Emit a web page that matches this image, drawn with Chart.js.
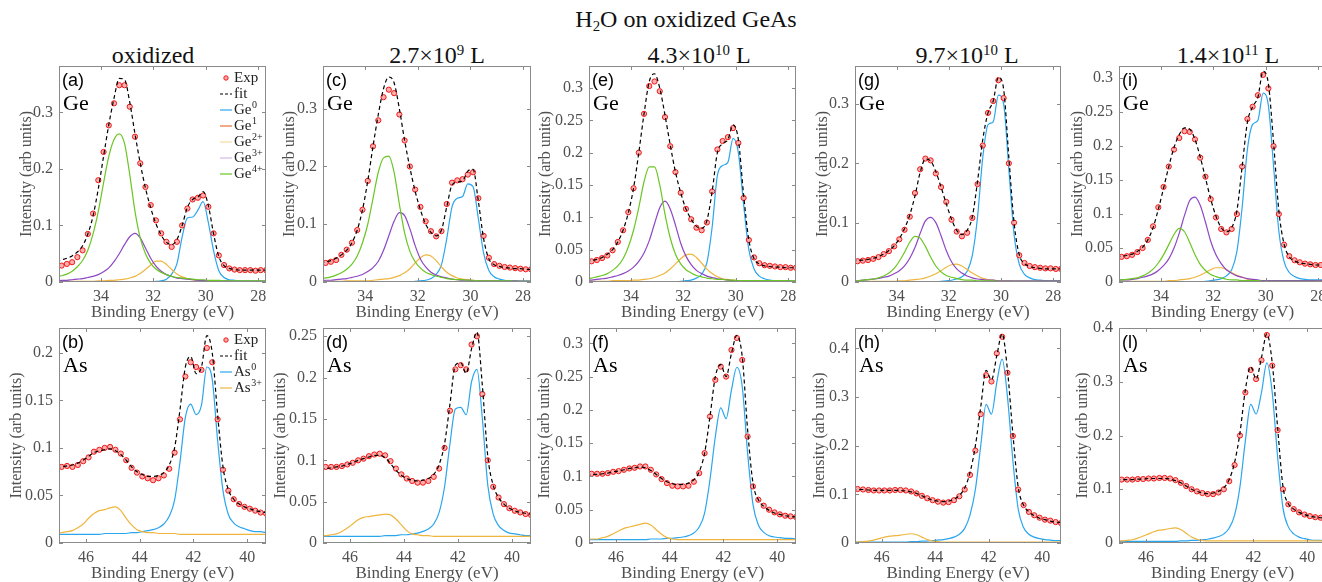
<!DOCTYPE html>
<html>
<head>
<meta charset="utf-8">
<title>H2O on oxidized GeAs</title>
<script src="https://cdn.jsdelivr.net/npm/chart.js@4.4.1/dist/chart.umd.min.js"></script>
<style>
  html, body { margin: 0; padding: 0; background: #fff; }
  body { width: 1322px; height: 582px; position: relative; overflow: hidden; font-family: 'Liberation Serif', 'DejaVu Serif', serif; }
  .txt { position: absolute; white-space: nowrap; color: #111; transform: translate(-50%, -50%); line-height: 1; }
  .main { font-size: 24px; }
  .col { font-size: 24px; }
  .sup { font-size: 0.62em; position: relative; top: -0.55em; }
  .sub { font-size: 0.62em; position: relative; top: 0.3em; }
  .panel { position: absolute; }
</style>
</head>
<body>
<div class="txt main" style="left:686px;top:19px">H<span class="sub">2</span>O on oxidized GeAs</div>
<div class="txt col" style="left:153px;top:55px">oxidized</div>
<div class="txt col" style="left:437px;top:55px">2.7×10<span class="sup">9</span> L</div>
<div class="txt col" style="left:699px;top:55px">4.3×10<span class="sup">10</span> L</div>
<div class="txt col" style="left:967px;top:55px">9.7×10<span class="sup">10</span> L</div>
<div class="txt col" style="left:1228px;top:55px">1.4×10<span class="sup">11</span> L</div>

<script>
const serif = 'Liberation Serif, DejaVu Serif, serif';
Chart.defaults.font.family = serif;

// --- Data ---

const geX = [
	35.7, 35.5, 35.3, 35.1, 34.9, 34.7, 34.5,
	34.3, 34.1, 33.9, 33.7, 33.5, 33.3, 33.1,
	32.9, 32.7, 32.5, 32.3, 32.1, 31.9, 31.7,
	31.5, 31.3, 31.1, 30.9, 30.7, 30.5, 30.3,
	30.1, 29.9, 29.7, 29.5, 29.3, 29.1, 28.9,
	28.7, 28.5, 28.3, 28.1, 27.9, 27.7, 27.5,
];
const asX = [
	47.1, 46.9, 46.7, 46.5, 46.3, 46.1, 45.9, 45.7,
	45.5, 45.3, 45.1, 44.9, 44.7, 44.5, 44.3, 44.1,
	43.9, 43.7, 43.5, 43.3, 43.1, 42.9, 42.7, 42.5,
	42.3, 42.1, 41.9, 41.7, 41.5, 41.3, 41.1, 40.9,
	40.7, 40.5, 40.3, 40.1, 39.9, 39.7, 39.5, 39.3,
	39.1,
];
const geOneX = [35.7, 27.5];
const geOneY = [0, 0];

const geRange = [27.7, 35.6];
const asRange = [39.3, 47.0];
const geTicks = [28, 30, 32, 34];
const asTicks = [40, 42, 44, 46];
const yTicks3 = [0, 0.1, 0.2, 0.3];
const yTicks4 = [0, 0.1, 0.2, 0.3, 0.4];
const yTicks20 = [0, 0.05, 0.1, 0.15, 0.2];
const yTicks25 = [0, 0.05, 0.1, 0.15, 0.2, 0.25];
const yTicks30 = [0, 0.05, 0.1, 0.15, 0.2, 0.25, 0.3];

// (a) oxidized, Ge 3d
const aExp = [
	0.028, 0.029, 0.032, 0.035, 0.044, 0.056, 0.085,
	0.121, 0.18, 0.23, 0.277, 0.316, 0.348, 0.348,
	0.31, 0.257, 0.21, 0.168, 0.136, 0.109, 0.086,
	0.071, 0.062, 0.071, 0.1, 0.13, 0.146, 0.149,
	0.153, 0.133, 0.086, 0.047, 0.03, 0.024, 0.022,
	0.021, 0.021, 0.021, 0.02, 0.021, 0.021, 0.021,
];
const aFit = [
	0.036, 0.039, 0.042, 0.046, 0.053, 0.064, 0.085,
	0.117, 0.165, 0.222, 0.278, 0.325, 0.36, 0.358,
	0.318, 0.262, 0.21, 0.166, 0.131, 0.103, 0.083,
	0.07, 0.066, 0.075, 0.1, 0.132, 0.146, 0.15,
	0.16, 0.135, 0.085, 0.045, 0.029, 0.024, 0.022,
	0.021, 0.021, 0.021, 0.021, 0.021, 0.021, 0.021,
];
const aGe0 = [
	0, 0, 0, 0, 0, 0, 0,
	0, 0, 0, 0, 0, 0, 0,
	0, 0, 0, 0, 0, 0.001, 0.002,
	0.005, 0.014, 0.032, 0.08, 0.113, 0.115, 0.127,
	0.142, 0.105, 0.055, 0.02, 0.008, 0.004, 0.003,
	0.002, 0.002, 0.002, 0.002, 0.002, 0.002, 0.002,
];
const aGe2 = [
	0.001, 0.001, 0.001, 0.001, 0.001, 0.001, 0.001,
	0.001, 0.002, 0.002, 0.003, 0.003, 0.004, 0.005,
	0.007, 0.01, 0.015, 0.022, 0.03, 0.037, 0.037,
	0.031, 0.022, 0.014, 0.009, 0.006, 0.004, 0.003,
	0.002, 0.002, 0.002, 0.001, 0.001, 0.001, 0.001,
	0.001, 0.001, 0.001, 0.001, 0.001, 0.001, 0.001,
];
const aGe3 = [
	0.002, 0.003, 0.003, 0.004, 0.005, 0.006, 0.008,
	0.01, 0.013, 0.018, 0.025, 0.036, 0.05, 0.066,
	0.08, 0.086, 0.078, 0.06, 0.042, 0.028, 0.019,
	0.013, 0.01, 0.007, 0.006, 0.005, 0.004, 0.003,
	0.003, 0.002, 0.002, 0.002, 0.002, 0.002, 0.001,
	0.001, 0.001, 0.001, 0.001, 0.001, 0.001, 0.001,
];
const aGe4 = [
	0.009, 0.011, 0.014, 0.019, 0.027, 0.038, 0.056,
	0.085, 0.125, 0.175, 0.222, 0.252, 0.262, 0.245,
	0.19, 0.125, 0.078, 0.05, 0.033, 0.023, 0.017,
	0.013, 0.01, 0.008, 0.007, 0.006, 0.005, 0.004,
	0.004, 0.003, 0.003, 0.003, 0.002, 0.002, 0.002,
	0.002, 0.002, 0.002, 0.002, 0.002, 0.002, 0.002,
];

// (c) 2.7e9 L, Ge 3d
const cExp = [
	0.032, 0.033, 0.035, 0.038, 0.047, 0.056, 0.068,
	0.09, 0.125, 0.175, 0.235, 0.28, 0.32, 0.333,
	0.327, 0.29, 0.245, 0.2, 0.16, 0.13, 0.105,
	0.088, 0.079, 0.088, 0.135, 0.172, 0.176, 0.178,
	0.186, 0.19, 0.145, 0.08, 0.042, 0.031, 0.028,
	0.026, 0.025, 0.024, 0.023, 0.022, 0.022, 0.022,
];
const cFit = [
	0.033, 0.035, 0.037, 0.041, 0.047, 0.055, 0.068,
	0.09, 0.125, 0.175, 0.235, 0.29, 0.335, 0.355,
	0.345, 0.3, 0.245, 0.198, 0.157, 0.125, 0.1,
	0.086, 0.08, 0.09, 0.13, 0.168, 0.173, 0.175,
	0.192, 0.195, 0.14, 0.075, 0.04, 0.03, 0.027,
	0.025, 0.024, 0.023, 0.023, 0.022, 0.022, 0.022,
];
const cGe0 = [
	0, 0, 0, 0, 0, 0, 0,
	0, 0, 0, 0, 0, 0, 0,
	0, 0, 0, 0, 0.001, 0.002, 0.003,
	0.006, 0.013, 0.03, 0.075, 0.13, 0.145, 0.148,
	0.17, 0.165, 0.11, 0.05, 0.02, 0.009, 0.005,
	0.003, 0.002, 0.002, 0.002, 0.002, 0.002, 0.002,
];
const cGe2 = [
	0.001, 0.001, 0.001, 0.001, 0.001, 0.002, 0.002,
	0.002, 0.002, 0.002, 0.003, 0.004, 0.005, 0.006,
	0.008, 0.011, 0.016, 0.023, 0.033, 0.042, 0.047,
	0.045, 0.037, 0.026, 0.017, 0.011, 0.007, 0.005,
	0.004, 0.003, 0.002, 0.002, 0.002, 0.002, 0.001,
	0.001, 0.001, 0.001, 0.001, 0.001, 0.001, 0.001,
];
const cGe3 = [
	0.002, 0.003, 0.003, 0.004, 0.005, 0.006, 0.008,
	0.01, 0.013, 0.018, 0.025, 0.036, 0.055, 0.08,
	0.105, 0.12, 0.115, 0.092, 0.063, 0.04, 0.026,
	0.017, 0.012, 0.009, 0.007, 0.005, 0.004, 0.003,
	0.003, 0.002, 0.002, 0.002, 0.002, 0.002, 0.002,
	0.002, 0.002, 0.002, 0.001, 0.001, 0.001, 0.001,
];
const cGe4 = [
	0.006, 0.007, 0.009, 0.012, 0.016, 0.022, 0.031,
	0.045, 0.068, 0.1, 0.145, 0.19, 0.215, 0.218,
	0.19, 0.135, 0.085, 0.053, 0.035, 0.024, 0.017,
	0.013, 0.01, 0.008, 0.006, 0.005, 0.004, 0.004,
	0.003, 0.003, 0.002, 0.002, 0.002, 0.002, 0.002,
	0.002, 0.002, 0.001, 0.001, 0.001, 0.001, 0.001,
];

// (e) 4.3e10 L, Ge 3d
const eExp = [
	0.031, 0.032, 0.034, 0.037, 0.041, 0.049, 0.062,
	0.08, 0.108, 0.145, 0.2, 0.26, 0.303, 0.31,
	0.295, 0.255, 0.21, 0.17, 0.138, 0.113, 0.097,
	0.084, 0.08, 0.092, 0.14, 0.205, 0.218, 0.224,
	0.238, 0.215, 0.13, 0.065, 0.038, 0.029, 0.026,
	0.025, 0.024, 0.023, 0.023, 0.022, 0.022, 0.022,
];
const eFit = [
	0.032, 0.033, 0.035, 0.038, 0.043, 0.05, 0.062,
	0.08, 0.107, 0.145, 0.2, 0.26, 0.31, 0.322,
	0.3, 0.258, 0.212, 0.17, 0.138, 0.113, 0.097,
	0.086, 0.083, 0.095, 0.14, 0.2, 0.214, 0.22,
	0.243, 0.22, 0.135, 0.065, 0.036, 0.028, 0.025,
	0.024, 0.023, 0.023, 0.022, 0.022, 0.022, 0.022,
];
const eGe0 = [
	0, 0, 0, 0, 0, 0, 0,
	0, 0, 0, 0, 0, 0, 0,
	0, 0, 0, 0, 0.001, 0.002, 0.003,
	0.006, 0.012, 0.03, 0.085, 0.165, 0.18, 0.185,
	0.222, 0.2, 0.12, 0.05, 0.02, 0.009, 0.005,
	0.003, 0.002, 0.002, 0.002, 0.002, 0.002, 0.002,
];
const eGe2 = [
	0.001, 0.001, 0.001, 0.001, 0.001, 0.002, 0.002,
	0.002, 0.002, 0.003, 0.003, 0.004, 0.005, 0.007,
	0.01, 0.014, 0.02, 0.028, 0.036, 0.042, 0.043,
	0.038, 0.029, 0.02, 0.013, 0.008, 0.005, 0.004,
	0.003, 0.002, 0.002, 0.002, 0.002, 0.001, 0.001,
	0.001, 0.001, 0.001, 0.001, 0.001, 0.001, 0.001,
];
const eGe3 = [
	0.003, 0.003, 0.004, 0.005, 0.006, 0.008, 0.01,
	0.013, 0.017, 0.023, 0.032, 0.045, 0.064, 0.09,
	0.115, 0.125, 0.113, 0.088, 0.06, 0.04, 0.027,
	0.018, 0.013, 0.009, 0.007, 0.005, 0.004, 0.003,
	0.002, 0.002, 0.002, 0.002, 0.002, 0.002, 0.002,
	0.002, 0.002, 0.002, 0.002, 0.002, 0.002, 0.002,
];
const eGe4 = [
	0.005, 0.006, 0.008, 0.01, 0.013, 0.018, 0.025,
	0.036, 0.054, 0.08, 0.115, 0.155, 0.178, 0.178,
	0.15, 0.105, 0.068, 0.043, 0.028, 0.019, 0.014,
	0.01, 0.008, 0.006, 0.005, 0.004, 0.004, 0.003,
	0.003, 0.002, 0.002, 0.002, 0.002, 0.002, 0.002,
	0.002, 0.002, 0.002, 0.002, 0.002, 0.002, 0.002,
];

// (g) 9.7e10 L, Ge 3d
const gExp = [
	0.034, 0.035, 0.036, 0.037, 0.039, 0.042, 0.047,
	0.052, 0.06, 0.072, 0.088, 0.11, 0.15, 0.19,
	0.208, 0.205, 0.183, 0.16, 0.135, 0.105, 0.085,
	0.077, 0.083, 0.108, 0.165, 0.23, 0.285, 0.305,
	0.34, 0.31, 0.2, 0.1, 0.045, 0.032, 0.027,
	0.025, 0.024, 0.023, 0.023, 0.022, 0.022, 0.022,
];
const gFit = [
	0.035, 0.036, 0.037, 0.038, 0.04, 0.043, 0.047,
	0.053, 0.061, 0.073, 0.09, 0.113, 0.145, 0.185,
	0.207, 0.204, 0.186, 0.16, 0.132, 0.106, 0.087,
	0.08, 0.087, 0.11, 0.17, 0.24, 0.285, 0.305,
	0.345, 0.325, 0.21, 0.1, 0.046, 0.031, 0.026,
	0.024, 0.023, 0.022, 0.022, 0.022, 0.022, 0.022,
];
const gGe0 = [
	0, 0, 0, 0, 0, 0, 0,
	0, 0, 0, 0, 0, 0, 0,
	0, 0, 0, 0.001, 0.002, 0.003, 0.005,
	0.009, 0.018, 0.045, 0.11, 0.21, 0.265, 0.27,
	0.315, 0.3, 0.19, 0.08, 0.03, 0.013, 0.007,
	0.004, 0.003, 0.002, 0.002, 0.002, 0.002, 0.002,
];
const gGe2 = [
	0.001, 0.001, 0.001, 0.001, 0.001, 0.001, 0.001,
	0.001, 0.001, 0.002, 0.002, 0.003, 0.004, 0.005,
	0.007, 0.01, 0.014, 0.019, 0.025, 0.029, 0.03,
	0.027, 0.021, 0.015, 0.01, 0.006, 0.004, 0.003,
	0.002, 0.002, 0.002, 0.001, 0.001, 0.001, 0.001,
	0.001, 0.001, 0.001, 0.001, 0.001, 0.001, 0.001,
];
const gGe3 = [
	0.002, 0.002, 0.003, 0.004, 0.005, 0.006, 0.008,
	0.01, 0.014, 0.019, 0.027, 0.04, 0.058, 0.082,
	0.103, 0.109, 0.1, 0.078, 0.053, 0.034, 0.022,
	0.015, 0.01, 0.007, 0.005, 0.004, 0.003, 0.003,
	0.002, 0.002, 0.002, 0.002, 0.002, 0.002, 0.002,
	0.002, 0.002, 0.002, 0.002, 0.002, 0.002, 0.002,
];
const gGe4 = [
	0.002, 0.002, 0.003, 0.004, 0.005, 0.007, 0.01,
	0.015, 0.023, 0.035, 0.05, 0.067, 0.077, 0.074,
	0.06, 0.042, 0.027, 0.017, 0.011, 0.008, 0.006,
	0.004, 0.003, 0.003, 0.002, 0.002, 0.002, 0.002,
	0.001, 0.001, 0.001, 0.001, 0.001, 0.001, 0.001,
	0.001, 0.001, 0.001, 0.001, 0.001, 0.001, 0.001,
];

// (i) 1.4e11 L, Ge 3d
const iExp = [
	0.036, 0.037, 0.038, 0.04, 0.044, 0.05, 0.062,
	0.082, 0.11, 0.14, 0.17, 0.195, 0.212, 0.222,
	0.221, 0.21, 0.183, 0.155, 0.122, 0.095, 0.078,
	0.073, 0.078, 0.1, 0.17, 0.24, 0.258, 0.275,
	0.305, 0.285, 0.2, 0.1, 0.055, 0.038, 0.032,
	0.029, 0.027, 0.026, 0.025, 0.025, 0.025, 0.025,
];
const iFit = [
	0.037, 0.038, 0.039, 0.041, 0.045, 0.051, 0.062,
	0.08, 0.107, 0.138, 0.17, 0.198, 0.217, 0.227,
	0.225, 0.21, 0.184, 0.153, 0.122, 0.097, 0.08,
	0.074, 0.08, 0.105, 0.17, 0.235, 0.258, 0.272,
	0.31, 0.292, 0.205, 0.105, 0.056, 0.037, 0.031,
	0.028, 0.027, 0.026, 0.025, 0.025, 0.025, 0.025,
];
const iGe0 = [
	0, 0, 0, 0, 0, 0, 0,
	0, 0, 0, 0, 0, 0, 0,
	0, 0, 0, 0.001, 0.002, 0.003, 0.005,
	0.009, 0.018, 0.045, 0.11, 0.195, 0.232, 0.238,
	0.278, 0.26, 0.17, 0.075, 0.03, 0.014, 0.008,
	0.005, 0.004, 0.003, 0.003, 0.003, 0.003, 0.003,
];
const iGe2 = [
	0.001, 0.001, 0.001, 0.001, 0.001, 0.001, 0.001,
	0.001, 0.001, 0.001, 0.002, 0.002, 0.003, 0.004,
	0.005, 0.007, 0.01, 0.014, 0.018, 0.021, 0.021,
	0.018, 0.014, 0.01, 0.007, 0.004, 0.003, 0.002,
	0.002, 0.002, 0.001, 0.001, 0.001, 0.001, 0.001,
	0.001, 0.001, 0.001, 0.001, 0.001, 0.001, 0.001,
];
const iGe3 = [
	0.002, 0.003, 0.003, 0.004, 0.005, 0.007, 0.009,
	0.012, 0.017, 0.024, 0.034, 0.05, 0.072, 0.098,
	0.12, 0.125, 0.113, 0.088, 0.06, 0.04, 0.027,
	0.018, 0.013, 0.009, 0.007, 0.005, 0.004, 0.003,
	0.002, 0.002, 0.002, 0.002, 0.002, 0.002, 0.002,
	0.002, 0.002, 0.002, 0.002, 0.002, 0.002, 0.002,
];
const iGe4 = [
	0.002, 0.003, 0.004, 0.005, 0.006, 0.009, 0.013,
	0.019, 0.028, 0.04, 0.055, 0.07, 0.079, 0.074,
	0.058, 0.04, 0.026, 0.017, 0.011, 0.008, 0.006,
	0.004, 0.003, 0.003, 0.002, 0.002, 0.002, 0.002,
	0.001, 0.001, 0.001, 0.001, 0.001, 0.001, 0.001,
	0.001, 0.001, 0.001, 0.001, 0.001, 0.001, 0.001,
];

// (b) oxidized, As 3d
const bExp = [
	0.078, 0.08, 0.081, 0.08, 0.082, 0.086, 0.09, 0.096,
	0.098, 0.1, 0.101, 0.098, 0.094, 0.087, 0.079, 0.074,
	0.07, 0.068, 0.066, 0.068, 0.071, 0.078, 0.095, 0.13,
	0.175, 0.19, 0.185, 0.182, 0.205, 0.19, 0.13, 0.077,
	0.055, 0.046, 0.041, 0.038, 0.036, 0.034, 0.032, 0.031,
	0.031,
];
const bFit = [
	0.079, 0.08, 0.081, 0.082, 0.084, 0.087, 0.091, 0.095,
	0.097, 0.098, 0.099, 0.097, 0.093, 0.087, 0.08, 0.075,
	0.072, 0.07, 0.07, 0.071, 0.074, 0.082, 0.1, 0.14,
	0.185, 0.196, 0.178, 0.185, 0.218, 0.2, 0.135, 0.08,
	0.056, 0.046, 0.041, 0.038, 0.036, 0.034, 0.033, 0.032,
	0.032,
];
const bAs0 = [
	0.009, 0.009, 0.009, 0.009, 0.009, 0.009, 0.009, 0.009,
	0.009, 0.01, 0.01, 0.01, 0.01, 0.01, 0.011, 0.011,
	0.012, 0.013, 0.014, 0.016, 0.02, 0.028, 0.045, 0.085,
	0.132, 0.146, 0.135, 0.145, 0.185, 0.172, 0.108, 0.055,
	0.03, 0.021, 0.017, 0.015, 0.013, 0.012, 0.012, 0.011,
	0.011,
];
const bAs3 = [
	0.01, 0.011, 0.012, 0.013, 0.016, 0.02, 0.026, 0.031,
	0.034, 0.035, 0.037, 0.038, 0.034, 0.026, 0.019, 0.014,
	0.012, 0.011, 0.011, 0.01, 0.01, 0.01, 0.01, 0.009,
	0.009, 0.009, 0.009, 0.009, 0.009, 0.009, 0.009, 0.009,
	0.009, 0.009, 0.009, 0.009, 0.009, 0.009, 0.009, 0.009,
	0.009,
];

// (d) 2.7e9 L, As 3d
const dExp = [
	0.092, 0.092, 0.092, 0.092, 0.093, 0.095, 0.097, 0.1,
	0.102, 0.105, 0.107, 0.108, 0.106, 0.099, 0.09, 0.083,
	0.078, 0.075, 0.073, 0.073, 0.075, 0.08, 0.09, 0.115,
	0.16, 0.21, 0.215, 0.21, 0.24, 0.25, 0.18, 0.1,
	0.068, 0.055, 0.047, 0.042, 0.039, 0.037, 0.035, 0.034,
	0.034,
];
const dFit = [
	0.09, 0.09, 0.091, 0.092, 0.093, 0.095, 0.097, 0.1,
	0.102, 0.104, 0.106, 0.106, 0.103, 0.096, 0.088, 0.082,
	0.078, 0.076, 0.075, 0.076, 0.078, 0.083, 0.095, 0.12,
	0.168, 0.215, 0.218, 0.205, 0.235, 0.255, 0.19, 0.105,
	0.07, 0.055, 0.047, 0.042, 0.039, 0.037, 0.036, 0.035,
	0.035,
];
const dAs0 = [
	0.008, 0.008, 0.008, 0.008, 0.008, 0.008, 0.008, 0.008,
	0.008, 0.008, 0.008, 0.008, 0.009, 0.009, 0.009, 0.01,
	0.01, 0.011, 0.012, 0.014, 0.017, 0.023, 0.037, 0.068,
	0.12, 0.162, 0.164, 0.155, 0.195, 0.21, 0.15, 0.07,
	0.035, 0.021, 0.015, 0.012, 0.011, 0.01, 0.009, 0.009,
	0.009,
];
const dAs3 = [
	0.009, 0.009, 0.01, 0.011, 0.014, 0.018, 0.023, 0.028,
	0.031, 0.032, 0.033, 0.034, 0.035, 0.034, 0.029, 0.022,
	0.015, 0.011, 0.01, 0.009, 0.009, 0.008, 0.008, 0.008,
	0.008, 0.008, 0.008, 0.008, 0.008, 0.008, 0.008, 0.008,
	0.008, 0.008, 0.008, 0.008, 0.008, 0.008, 0.008, 0.008,
	0.008,
];

// (f) 4.3e10 L, As 3d
const fExp = [
	0.103, 0.104, 0.104, 0.104, 0.105, 0.107, 0.108, 0.11,
	0.112, 0.113, 0.115, 0.115, 0.11, 0.103, 0.096, 0.09,
	0.086, 0.085, 0.085, 0.086, 0.092, 0.105, 0.135, 0.19,
	0.245, 0.265, 0.25, 0.29, 0.308, 0.275, 0.16, 0.085,
	0.065, 0.056, 0.05, 0.046, 0.043, 0.041, 0.04, 0.039,
	0.039,
];
const fFit = [
	0.102, 0.103, 0.103, 0.104, 0.105, 0.107, 0.108, 0.11,
	0.112, 0.113, 0.114, 0.113, 0.109, 0.103, 0.097, 0.092,
	0.089, 0.088, 0.088, 0.09, 0.095, 0.107, 0.135, 0.19,
	0.25, 0.268, 0.25, 0.285, 0.312, 0.28, 0.17, 0.09,
	0.065, 0.055, 0.049, 0.045, 0.043, 0.041, 0.04, 0.039,
	0.039,
];
const fAs0 = [
	0.005, 0.005, 0.005, 0.005, 0.005, 0.005, 0.005, 0.005,
	0.005, 0.005, 0.005, 0.005, 0.006, 0.006, 0.006, 0.007,
	0.007, 0.008, 0.009, 0.011, 0.015, 0.024, 0.045, 0.095,
	0.16, 0.203, 0.187, 0.23, 0.264, 0.235, 0.135, 0.058,
	0.027, 0.016, 0.011, 0.009, 0.008, 0.007, 0.007, 0.006,
	0.006,
];
const fAs3 = [
	0.005, 0.006, 0.006, 0.008, 0.01, 0.014, 0.018, 0.022,
	0.024, 0.026, 0.028, 0.03, 0.027, 0.02, 0.013, 0.008,
	0.006, 0.005, 0.005, 0.005, 0.005, 0.005, 0.005, 0.005,
	0.005, 0.005, 0.005, 0.005, 0.005, 0.005, 0.005, 0.005,
	0.005, 0.005, 0.005, 0.005, 0.005, 0.005, 0.005, 0.005,
	0.005,
];

// (h) 9.7e10 L, As 3d
const hExp = [
	0.111, 0.111, 0.11, 0.109, 0.108, 0.108, 0.108, 0.108,
	0.109, 0.109, 0.108, 0.106, 0.102, 0.097, 0.092, 0.088,
	0.085, 0.083, 0.084, 0.088, 0.096, 0.11, 0.14, 0.19,
	0.265, 0.345, 0.332, 0.39, 0.424, 0.35, 0.22, 0.11,
	0.078, 0.064, 0.057, 0.052, 0.048, 0.046, 0.043, 0.041,
	0.04,
];
const hFit = [
	0.11, 0.11, 0.11, 0.109, 0.108, 0.108, 0.108, 0.108,
	0.108, 0.108, 0.107, 0.105, 0.102, 0.097, 0.092, 0.088,
	0.086, 0.085, 0.086, 0.09, 0.098, 0.113, 0.145, 0.2,
	0.28, 0.355, 0.335, 0.385, 0.43, 0.355, 0.225, 0.115,
	0.078, 0.064, 0.056, 0.051, 0.048, 0.045, 0.043, 0.042,
	0.041,
];
const hAs0 = [
	0.002, 0.002, 0.002, 0.002, 0.002, 0.002, 0.002, 0.002,
	0.002, 0.002, 0.002, 0.003, 0.003, 0.004, 0.004, 0.005,
	0.006, 0.007, 0.009, 0.012, 0.018, 0.03, 0.058, 0.11,
	0.2, 0.285, 0.265, 0.33, 0.378, 0.3, 0.17, 0.07,
	0.032, 0.018, 0.012, 0.009, 0.007, 0.006, 0.005, 0.005,
	0.004,
];
const hAs3 = [
	0.002, 0.002, 0.003, 0.004, 0.006, 0.009, 0.012, 0.014,
	0.015, 0.016, 0.018, 0.019, 0.017, 0.012, 0.007, 0.004,
	0.003, 0.002, 0.002, 0.002, 0.002, 0.002, 0.002, 0.002,
	0.002, 0.002, 0.002, 0.002, 0.002, 0.002, 0.002, 0.002,
	0.002, 0.002, 0.002, 0.002, 0.002, 0.002, 0.002, 0.002,
	0.002,
];

// (l) 1.4e11 L, As 3d
const lExp = [
	0.118, 0.118, 0.118, 0.118, 0.119, 0.119, 0.12, 0.12,
	0.121, 0.121, 0.12, 0.117, 0.112, 0.106, 0.1, 0.096,
	0.093, 0.091, 0.091, 0.094, 0.1, 0.115, 0.145, 0.2,
	0.28, 0.322, 0.305, 0.34, 0.387, 0.33, 0.21, 0.1,
	0.072, 0.063, 0.057, 0.053, 0.05, 0.048, 0.047, 0.046,
	0.045,
];
const lFit = [
	0.118, 0.118, 0.118, 0.118, 0.119, 0.119, 0.12, 0.12,
	0.12, 0.12, 0.119, 0.116, 0.112, 0.106, 0.1, 0.096,
	0.093, 0.092, 0.093, 0.096, 0.103, 0.118, 0.15, 0.205,
	0.285, 0.328, 0.305, 0.345, 0.389, 0.335, 0.215, 0.105,
	0.073, 0.063, 0.057, 0.053, 0.05, 0.048, 0.047, 0.046,
	0.045,
];
const lAs0 = [
	0.003, 0.003, 0.003, 0.003, 0.003, 0.003, 0.003, 0.003,
	0.003, 0.003, 0.003, 0.003, 0.004, 0.004, 0.005, 0.005,
	0.006, 0.007, 0.009, 0.012, 0.017, 0.028, 0.052, 0.105,
	0.19, 0.258, 0.24, 0.28, 0.335, 0.28, 0.16, 0.065,
	0.03, 0.017, 0.011, 0.008, 0.006, 0.005, 0.005, 0.004,
	0.004,
];
const lAs3 = [
	0.004, 0.004, 0.005, 0.006, 0.009, 0.013, 0.017, 0.021,
	0.024, 0.025, 0.027, 0.028, 0.025, 0.018, 0.011, 0.007,
	0.005, 0.004, 0.004, 0.004, 0.004, 0.004, 0.004, 0.004,
	0.004, 0.004, 0.004, 0.004, 0.004, 0.004, 0.004, 0.004,
	0.004, 0.004, 0.004, 0.004, 0.004, 0.004, 0.004, 0.004,
	0.004,
];

// --- Styles ---

const blue = '#2aa6ee';
const orange = '#e9703a';
const yellow = '#efb53d';
const purple = '#8e47c4';
const green = '#6bc623';
const axisGrey = '#505050';

const geLegend = [
	{ kind: 'dot', base: 'Exp' },
	{ kind: 'dash', base: 'fit' },
	{ color: blue, base: 'Ge', sup: '0' },
	{ color: orange, base: 'Ge', sup: '1' },
	{ color: '#f6d9a0', base: 'Ge', sup: '2+' },
	{ color: '#d6b8ea', base: 'Ge', sup: '3+' },
	{ color: green, base: 'Ge', sup: '4+' },
];
const asLegend = [
	{ kind: 'dot', base: 'Exp' },
	{ kind: 'dash', base: 'fit' },
	{ color: blue, base: 'As', sup: '0' },
	{ color: yellow, base: 'As', sup: '3+' },
];

const panels = [
	{ tag: '(a)', el: 'Ge', box: [59, 66, 266, 282], yMax: 0.382, yt: yTicks3, yOff: 32, exp: aExp, fit: aFit, parts: [aGe0, aGe2, aGe3, aGe4], legend: geLegend },
	{ tag: '(b)', el: 'As', box: [59, 328, 266, 543], yMax: 0.226, yt: yTicks20, yOff: 42, exp: bExp, fit: bFit, parts: [bAs0, bAs3], legend: asLegend },
	{ tag: '(c)', el: 'Ge', box: [323, 66, 531, 282], yMax: 0.374, yt: yTicks3, yOff: 33, exp: cExp, fit: cFit, parts: [cGe0, cGe2, cGe3, cGe4] },
	{ tag: '(d)', el: 'As', box: [323, 328, 531, 543], yMax: 0.26, yt: yTicks25, yOff: 42, exp: dExp, fit: dFit, parts: [dAs0, dAs3] },
	{ tag: '(e)', el: 'Ge', box: [589, 66, 796, 282], yMax: 0.334, yt: yTicks30, yOff: 43, exp: eExp, fit: eFit, parts: [eGe0, eGe2, eGe3, eGe4] },
	{ tag: '(f)', el: 'As', box: [589, 328, 796, 543], yMax: 0.323, yt: yTicks30, yOff: 44, exp: fExp, fit: fFit, parts: [fAs0, fAs3] },
	{ tag: '(g)', el: 'Ge', box: [855, 66, 1061, 282], yMax: 0.364, yt: yTicks3, yOff: 32, exp: gExp, fit: gFit, parts: [gGe0, gGe2, gGe3, gGe4] },
	{ tag: '(h)', el: 'As', box: [855, 328, 1061, 543], yMax: 0.442, yt: yTicks4, yOff: 35, exp: hExp, fit: hFit, parts: [hAs0, hAs3] },
	{ tag: '(i)', el: 'Ge', box: [1119, 66, 1326, 282], yMax: 0.318, yt: yTicks30, yOff: 41, exp: iExp, fit: iFit, parts: [iGe0, iGe2, iGe3, iGe4] },
	{ tag: '(l)', el: 'As', box: [1119, 328, 1326, 543], yMax: 0.40, yt: yTicks4, yOff: 36, exp: lExp, fit: lFit, parts: [lAs0, lAs3] },
];

// --- Functions ---

function series(xs, ys) {
	return xs.map((x, i) => ({ x, y: ys[i] }));
}

function lineSet(label, data, color, extra) {
	return Object.assign({
		label, data, borderColor: color, backgroundColor: color, borderWidth: 1.2,
		pointRadius: 0, cubicInterpolationMode: 'monotone', fill: false,
	}, extra || {});
}

function drawLegend(ctx, area, items) {
	items.forEach((it, i) => {
		const yy = area.top + 12 + i * 16;
		const x0 = area.left + 161, x1 = area.left + 173;
		ctx.save();
		if (it.kind === 'dot') {
			ctx.beginPath();
			ctx.arc((x0 + x1) / 2, yy, 2.2, 0, Math.PI * 2);
			ctx.fillStyle = 'rgba(255,160,160,0.9)';
			ctx.fill();
			ctx.strokeStyle = '#f01818';
			ctx.lineWidth = 1;
			ctx.stroke();
		} else {
			ctx.beginPath();
			ctx.moveTo(x0, yy);
			ctx.lineTo(x1, yy);
			ctx.strokeStyle = it.kind === 'dash' ? '#000' : it.color;
			ctx.lineWidth = 1.2;
			if (it.kind === 'dash') ctx.setLineDash([3, 2]);
			ctx.stroke();
		}
		ctx.setLineDash([]);
		ctx.fillStyle = '#222';
		ctx.textBaseline = 'middle';
		ctx.font = `15px ${serif}`;
		ctx.fillText(it.base, x1 + 2, yy);
		if (it.sup) {
			const w = ctx.measureText(it.base).width;
			ctx.font = `10px ${serif}`;
			ctx.fillText(it.sup, x1 + 2.5 + w, yy - 5);
		}
		ctx.restore();
	});
}

const panelDecor = {
	id: 'panelDecor',
	afterDraw(chart, args, opts) {
		const { ctx, chartArea: a, scales: { x, y } } = chart;
		ctx.save();
		ctx.strokeStyle = '#8a8a8a';
		ctx.lineWidth = 1;
		ctx.strokeRect(a.left + 0.5, a.top + 0.5, a.right - a.left - 1, a.bottom - a.top - 1);
		ctx.beginPath();
		x.ticks.forEach((t) => {
			const px = Math.round(x.getPixelForValue(t.value)) + 0.5;
			ctx.moveTo(px, a.bottom); ctx.lineTo(px, a.bottom - 4);
			ctx.moveTo(px, a.top); ctx.lineTo(px, a.top + 4);
		});
		y.ticks.forEach((t) => {
			const py = Math.round(y.getPixelForValue(t.value)) + 0.5;
			ctx.moveTo(a.left, py); ctx.lineTo(a.left + 4, py);
			ctx.moveTo(a.right, py); ctx.lineTo(a.right - 4, py);
		});
		ctx.stroke();

		ctx.fillStyle = '#000';
		ctx.textBaseline = 'alphabetic';
		ctx.font = '18px Liberation Sans, Arial, sans-serif';
		ctx.fillText(opts.tag, a.left + 3, a.top + 20);
		ctx.font = `22px ${serif}`;
		ctx.fillText(opts.el, a.left + 4, a.top + 44);

		if (opts.legend) drawLegend(ctx, a, opts.legend);
		ctx.restore();
	},
};

function makePanel(p) {
	const [left, top, right, bottom] = p.box;
	const padL = 60, padT = 18, padR = 6, axisH = 44;
	const isGe = p.el === 'Ge';
	const xs = isGe ? geX : asX;

	const wrap = document.createElement('div');
	wrap.className = 'panel';
	wrap.style.left = (left - padL) + 'px';
	wrap.style.top = (top - padT) + 'px';
	const canvas = document.createElement('canvas');
	const w = right - left + padL + padR;
	const h = bottom - top + padT + axisH;
	canvas.width = w;
	canvas.height = h;
	canvas.style.width = w + 'px';
	canvas.style.height = h + 'px';
	wrap.appendChild(canvas);
	document.body.appendChild(wrap);

	const datasets = [
		lineSet('fit', series(xs, p.fit), '#000', { borderDash: [4, 3], borderWidth: 1.2 }),
		{
			label: 'Exp', data: series(xs, p.exp), showLine: false,
			pointRadius: 2.6, pointBorderWidth: 1, pointStyle: 'circle',
			pointBorderColor: '#f01818', pointBackgroundColor: 'rgba(255,160,160,0.85)',
			borderColor: '#f01818', backgroundColor: 'rgba(255,160,160,0.85)',
		},
	];
	if (isGe) {
		const [ge0, ge2, ge3, ge4] = p.parts;
		datasets.push(
			lineSet('Ge4+', series(xs, ge4), green),
			lineSet('Ge3+', series(xs, ge3), purple),
			lineSet('Ge2+', series(xs, ge2), yellow),
			lineSet('Ge0', series(xs, ge0), blue),
			lineSet('Ge1', series(geOneX, geOneY), orange),
		);
	} else {
		const [as0, as3] = p.parts;
		datasets.push(
			lineSet('As3+', series(xs, as3), yellow),
			lineSet('As0', series(xs, as0), blue),
		);
	}

	const xr = isGe ? geRange : asRange;
	const xt = isGe ? geTicks : asTicks;

	new Chart(canvas, {
		type: 'line',
		data: { datasets },
		options: {
			responsive: false,
			animation: false,
			devicePixelRatio: 1,
			layout: { padding: { top: padT, right: padR, left: 0, bottom: 0 } },
			plugins: {
				legend: { display: false },
				tooltip: { enabled: false },
				panelDecor: { tag: p.tag, el: p.el, legend: p.legend },
			},
			scales: {
				x: {
					type: 'linear', reverse: true, min: xr[0], max: xr[1],
					afterBuildTicks: (s) => { s.ticks = xt.map((v) => ({ value: v })); },
					afterFit: (s) => { s.height = axisH; },
					grid: { display: false, drawTicks: false },
					border: { display: false },
					ticks: { padding: 5, color: axisGrey, font: { family: serif, size: 16 }, maxRotation: 0, autoSkip: false },
					title: {
						display: true, text: 'Binding Energy (eV)', color: axisGrey,
						font: { family: serif, size: 17 }, padding: { top: 0, bottom: 3 },
					},
				},
				y: {
					type: 'linear', min: 0, max: p.yMax,
					afterBuildTicks: (s) => { s.ticks = p.yt.map((v) => ({ value: v })); },
					afterFit: (s) => { s.width = padL; },
					grid: { display: false, drawTicks: false },
					border: { display: false },
					ticks: {
						padding: 6, color: axisGrey, font: { family: serif, size: 16 }, autoSkip: false,
						callback: (v) => String(+Number(v).toFixed(3)),
					},
					title: {
						display: true, text: 'Intensity (arb units)', color: axisGrey,
						font: { family: serif, size: 16 }, padding: { top: padL - p.yOff - 9.6, bottom: 0 },
					},
				},
			},
		},
		plugins: [panelDecor],
	});
}

panels.forEach(makePanel);
</script>
</body>
</html>
